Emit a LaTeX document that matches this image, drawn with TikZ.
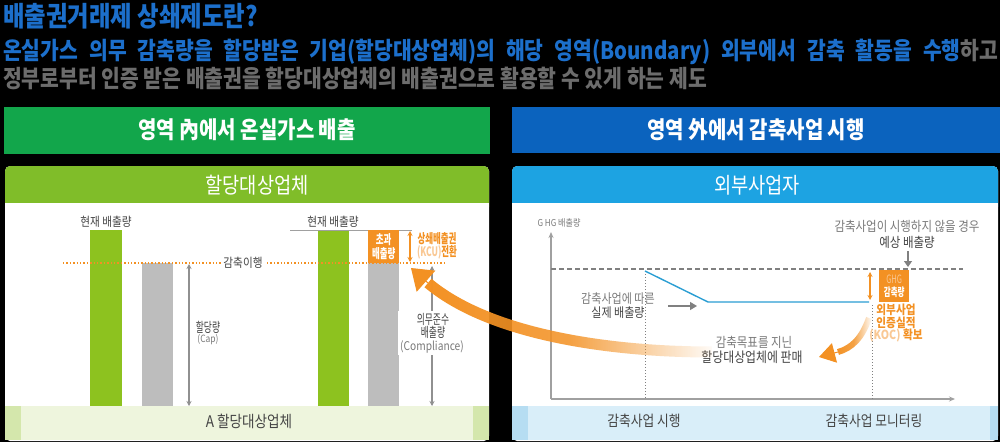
\documentclass[tikz,border=0pt]{standalone}
\usepackage{fontspec}
\setmainfont{Noto Sans CJK KR}[FakeStretch=0.85]
\newfontfamily\narrowfont{Noto Sans CJK KR}[FakeStretch=0.65]
\usepackage{xcolor}
\usetikzlibrary{positioning,arrows.meta,fadings}

\definecolor{titleblue}{HTML}{1C6FCB}
\definecolor{textgray}{HTML}{6C6C6C}
\definecolor{bargreen}{HTML}{12A64B}
\definecolor{barblue}{HTML}{0B63BE}
\definecolor{leafgreen}{HTML}{80BD29}
\definecolor{skyblue}{HTML}{1DA3E2}
\definecolor{limegreen}{HTML}{8DC21F}
\definecolor{barsgray}{HTML}{BDBDBD}
\definecolor{kcuorange}{HTML}{F39123}
\definecolor{lightorange}{HTML}{F9C894}
\definecolor{bandgreen}{HTML}{EEF5DD}
\definecolor{stripgreen}{HTML}{D4E7AC}
\definecolor{bandblue}{HTML}{D9EEF9}
\definecolor{stripblue}{HTML}{B6DDF2}
\definecolor{linecyan}{HTML}{2A9ED3}
\definecolor{axisgray}{HTML}{A0A0A0}
\definecolor{labelgray}{HTML}{7A7A7A}
\definecolor{darkgray}{HTML}{444444}

\newcommand{\fsz}[2]{\fontsize{#1}{#2}\selectfont}

\tikzfading[name=fade tail, left color=transparent!0, right color=transparent!100, middle color=transparent!15]

\tikzset{
  txt/.style={inner sep=0pt, align=center},
  dimgray/.style={{Stealth[length=5pt,width=5pt]}-{Stealth[length=5pt,width=5pt]}, line width=1.2pt, draw=axisgray!90!black},
  dimorange/.style={{Stealth[length=5pt,width=5pt]}-{Stealth[length=5pt,width=5pt]}, line width=1.2pt, draw=kcuorange},
  axis/.style={-{Stealth[length=6pt,width=5pt]}, line width=1.3pt, draw=axisgray},
}

\begin{document}
\begin{tikzpicture}[x=1pt, y=-1pt]
  \fill[black] (0,0) rectangle (1000,442);
  \useasboundingbox (0,0) rectangle (1000,442);

  % Title
  \node (title) [anchor=west, txt, font=\bfseries\fsz{27.5}{29}, text=titleblue] at (3,16) {배출권거래제 상쇄제도란?};
  \node (desc1) [anchor=west, txt, font=\bfseries\fsz{24}{26}] at (3,52) {\makebox[995pt][s]{\color{titleblue}온실가스 의무 감축량을 할당받은 기업(할당대상업체)의 해당 영역(Boundary) 외부에서 감축 활동을 수행\color{textgray}하고}};
  \node (desc2) [anchor=west, txt, font=\bfseries\fsz{24}{26}, text=textgray] at (3,78) {정부로부터 인증 받은 배출권을 할당대상업체의 배출권으로 활용할 수 있게 하는 제도};

  % Header bars
  \fill[bargreen] (4,107) rectangle (490,154);
  \fill[barblue] (512,107) rectangle (1000,153);
  \node (inside) [txt, font=\bfseries\fsz{23.5}{25}, text=white] at (247,130) {영역 內에서 온실가스 배출};
  \node (outside) [txt, font=\bfseries\fsz{23.5}{25}, text=white] at (756,130) {영역 外에서 감축사업 시행};

  % Panels
  \fill[white, rounded corners=5pt] (5,166) rectangle (489,441);
  \fill[leafgreen, rounded corners=5pt] (5,166) rectangle (489,212);
  \fill[white] (5,203) rectangle (489,214);
  \fill[bandgreen] (5,406) rectangle (489,440);
  \fill[stripgreen] (5,406) rectangle (21,440);
  \fill[stripgreen] (473,406) rectangle (489,440);

  \fill[white, rounded corners=5pt] (512,166) rectangle (998,441);
  \fill[skyblue, rounded corners=5pt] (512,166) rectangle (998,212);
  \fill[white] (512,203) rectangle (998,214);
  \fill[bandblue] (512,406) rectangle (998,440);
  \fill[stripblue] (512,406) rectangle (528,440);
  \fill[stripblue] (990,406) rectangle (998,440);

  \node (firm) [txt, font=\fsz{22}{24}, text=white] at (257,185) {할당대상업체};
  \node (extern) [txt, font=\fsz{22}{24}, text=white] at (757,185) {외부사업자};
  \node (firmA) [txt, font=\fsz{16}{18}, text=darkgray] at (249,421) {A 할당대상업체};
  \node (doproj) [txt, font=\fsz{15}{18}, text=darkgray] at (644,421) {감축사업 시행};
  \node (monitor) [txt, font=\fsz{15}{18}, text=darkgray] at (874,421) {감축사업 모니터링};

  % Left bars
  \fill[limegreen] (90,230) rectangle (122,406);
  \fill[barsgray] (142,263) rectangle (173,406);
  \fill[limegreen] (318,230) rectangle (349,406);
  \fill[barsgray] (368,263) rectangle (399,406);
  \draw[axisgray, line width=0.8pt] (290,230.5) -- (412,230.5);
  \node (excess) [fill=kcuorange, minimum width=31pt, minimum height=33pt, inner sep=0pt, anchor=north west, align=center, font=\bfseries\narrowfont\fsz{13}{13.5}, text=white] at (368,230) {초과\\배출량};

  \node (now1) [txt, font=\fsz{12.5}{14}, text=darkgray] at (106,222) {현재 배출량};
  \node (now2) [txt, font=\fsz{12.5}{14}, text=darkgray] at (333,222) {현재 배출량};

  % Dotted level
  \coordinate (lvlL) at (63,263);
  \coordinate (lvlR) at (447,263);
  \draw[kcuorange, line width=1.4pt, dotted] (lvlL) -- (lvlR);
  \node (ihaeng) [fill=white, inner sep=2pt, font=\fsz{12.5}{14}, text=darkgray] at (243,263) {감축이행};

  % Dimension arrows
  \coordinate (capT) at (189,264);
  \coordinate (capB) at (189,406);
  \draw[dimgray] (capT) -- (capB);
  \node (cap) [txt, font=\narrowfont\fsz{13.5}{14}, text=darkgray] at (208,327) {할당량};
  \node (capen) [txt, font=\fsz{10}{11}, text=labelgray] at (208,340) {(Cap)};

  \coordinate (kcuT) at (410,231);
  \coordinate (kcuB) at (410,262);
  \draw[dimorange] (kcuT) -- (kcuB);
  \node (kcu) [txt, font=\bfseries\narrowfont\fsz{13}{13}, text=kcuorange] at (437,246) {상쇄배출권\\{\color{lightorange}(KCU)}전환};

  \coordinate (compT) at (432,266);
  \coordinate (compB) at (432,406);
  \draw[dimgray] (compT) -- (compB);
  \node (comp) [fill=white, inner sep=2pt, align=center, font=\fsz{12}{13}, text=darkgray] at (432,333) {{\narrowfont\fsz{13.5}{13} 의무준수}\\{\narrowfont\fsz{13.5}{13} 배출량}\\{\color{labelgray}(Compliance)}};

  % Right chart
  \node (ghg) [txt, font=\fsz{9.5}{11}, text=labelgray] at (559,223) {G HG 배출량};
  \coordinate (origin) at (551,399);
  \coordinate (ytop) at (551,232);
  \coordinate (xend) at (955,399);
  \draw[axis] (origin) -- (ytop);
  \draw[axis] (origin) -- (xend);

  \coordinate (baseL) at (551,269);
  \coordinate (baseR) at (963,269);
  \draw[gray, line width=1.8pt, dash pattern=on 5pt off 3pt] (baseL) -- (baseR);

  \coordinate (startT) at (645,271);
  \coordinate (startB) at (645,399);
  \draw[gray, line width=1pt, dotted] (startT) -- (startB);
  \coordinate (monT) at (872,305);
  \coordinate (monB) at (872,399);
  \draw[gray, line width=1pt, dotted] (monT) -- (monB);

  \coordinate (drop) at (708,302);
  \coordinate (flatR) at (869,302);
  \draw[linecyan, line width=1.4pt] (startT) -- (drop) -- (flatR);

  \coordinate (redT) at (870,272);
  \coordinate (redB) at (870,300);
  \draw[dimorange] (redT) -- (redB);
  \node (cut) [fill=kcuorange, minimum width=30pt, minimum height=32pt, inner sep=0pt, anchor=north west, align=center, font=\narrowfont\fsz{11.5}{12.5}] at (879,270) {{\color{lightorange}GHG}\\{\bfseries\color{white}감축량}};
  \node (koc) [txt, anchor=north, font=\bfseries\fsz{12.5}{12.5}, text=kcuorange] at (896,304) {외부사업\\인증실적\\{\color{lightorange}(KOC)} 확보};

  \node (nodo) [txt, font=\fsz{13.5}{16}, text=labelgray] at (907,226) {감축사업이 시행하지 않을 경우};
  \node (expect) [txt, font=\fsz{13.5}{16}, text=darkgray] at (907,242) {예상 배출량};
  \coordinate (expT) at (908,251);
  \coordinate (expB) at (908,267);
  \draw[gray, line width=1.3pt, -{Triangle[length=6pt,width=8pt]}] (expT) -- (expB);

  \node (actual) [txt, font=\fsz{13}{15}, text=labelgray] at (618,299) {감축사업에 따른};
  \node (actual2) [txt, font=\fsz{13}{15}, text=darkgray] at (618,313) {실제 배출량};
  \coordinate (actA) at (668,306);
  \coordinate (actB) at (697,306);
  \draw[gray, line width=1.3pt, -{Triangle[length=7pt,width=8pt]}] (actA) -- (actB);

  \node (sell) [txt, font=\fsz{13.5}{16}, text=labelgray] at (754,342) {감축목표를 지닌};
  \node (sell2) [txt, font=\fsz{14}{16}, text=darkgray] at (752,357) {할당대상업체에 판매};

  % Orange transfer arrows
  \coordinate (bigtail) at (712,352);
  \coordinate (bigneck) at (428,283);
  \coordinate (bigtip) at (411,268);
  \draw[kcuorange, line width=11pt, path fading=fade tail] (bigtail) .. controls (610,352) and (490,335) .. (bigneck);
  \draw[kcuorange, line width=1pt, -{Triangle[length=20pt,width=28pt]}] (bigneck) -- (bigtip);

  \coordinate (smalltail) at (869,318);
  \coordinate (smallneck) at (838,352);
  \coordinate (smalltip) at (819,357);
  \draw[kcuorange, line width=6pt, path fading=fade tail] (smalltail) .. controls (862,338) and (852,348) .. (smallneck);
  \draw[kcuorange, line width=1pt, -{Triangle[length=16pt,width=20pt]}] (smallneck) -- (smalltip);
\end{tikzpicture}
\end{document}
